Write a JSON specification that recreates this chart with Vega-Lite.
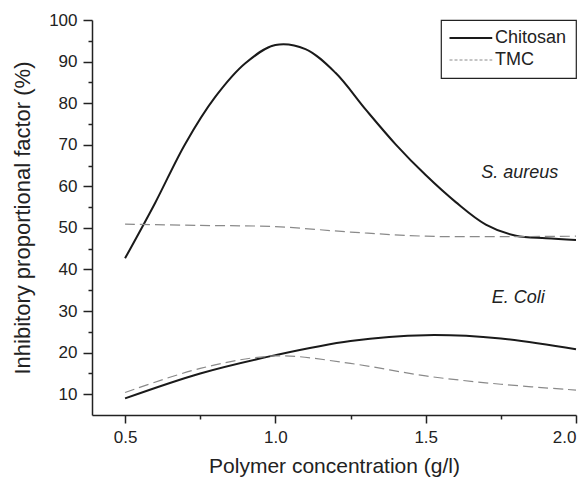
{
  "$schema": "https://vega.github.io/schema/vega-lite/v6.json",
  "width": 484,
  "height": 395,
  "autosize": {"type": "none"},
  "padding": {"left": 92, "top": 20, "right": 12, "bottom": 70},
  "background": "white",
  "config": {
    "view": {"stroke": null},
    "font": "Liberation Sans",
    "axis": {"domainColor": "#222", "domainWidth": 1.5, "tickColor": "#222", "tickWidth": 1.5, "labelColor": "#222", "titleColor": "#222", "grid": false, "labelFont": "Liberation Sans", "titleFont": "Liberation Sans", "titleFontWeight": "normal"}
  },
  "datasets": {
    "curves": [
      {"x": 0.50, "y": 42.7, "polymer": "Chitosan", "organism": "S. aureus"},
      {"x": 0.60, "y": 56.0, "polymer": "Chitosan", "organism": "S. aureus"},
      {"x": 0.70, "y": 70.2, "polymer": "Chitosan", "organism": "S. aureus"},
      {"x": 0.80, "y": 81.5, "polymer": "Chitosan", "organism": "S. aureus"},
      {"x": 0.90, "y": 89.6, "polymer": "Chitosan", "organism": "S. aureus"},
      {"x": 1.00, "y": 94.0, "polymer": "Chitosan", "organism": "S. aureus"},
      {"x": 1.10, "y": 93.0, "polymer": "Chitosan", "organism": "S. aureus"},
      {"x": 1.20, "y": 87.3, "polymer": "Chitosan", "organism": "S. aureus"},
      {"x": 1.30, "y": 78.5, "polymer": "Chitosan", "organism": "S. aureus"},
      {"x": 1.40, "y": 70.1, "polymer": "Chitosan", "organism": "S. aureus"},
      {"x": 1.50, "y": 62.7, "polymer": "Chitosan", "organism": "S. aureus"},
      {"x": 1.60, "y": 56.2, "polymer": "Chitosan", "organism": "S. aureus"},
      {"x": 1.70, "y": 50.8, "polymer": "Chitosan", "organism": "S. aureus"},
      {"x": 1.80, "y": 48.1, "polymer": "Chitosan", "organism": "S. aureus"},
      {"x": 1.90, "y": 47.5, "polymer": "Chitosan", "organism": "S. aureus"},
      {"x": 2.00, "y": 47.1, "polymer": "Chitosan", "organism": "S. aureus"},
      {"x": 0.50, "y": 50.9, "polymer": "TMC", "organism": "S. aureus"},
      {"x": 0.75, "y": 50.6, "polymer": "TMC", "organism": "S. aureus"},
      {"x": 1.00, "y": 50.3, "polymer": "TMC", "organism": "S. aureus"},
      {"x": 1.25, "y": 49.0, "polymer": "TMC", "organism": "S. aureus"},
      {"x": 1.50, "y": 48.0, "polymer": "TMC", "organism": "S. aureus"},
      {"x": 1.75, "y": 47.9, "polymer": "TMC", "organism": "S. aureus"},
      {"x": 2.00, "y": 48.0, "polymer": "TMC", "organism": "S. aureus"},
      {"x": 0.50, "y": 9.0, "polymer": "Chitosan", "organism": "E. Coli"},
      {"x": 0.75, "y": 15.0, "polymer": "Chitosan", "organism": "E. Coli"},
      {"x": 1.00, "y": 19.4, "polymer": "Chitosan", "organism": "E. Coli"},
      {"x": 1.25, "y": 22.8, "polymer": "Chitosan", "organism": "E. Coli"},
      {"x": 1.50, "y": 24.2, "polymer": "Chitosan", "organism": "E. Coli"},
      {"x": 1.75, "y": 23.4, "polymer": "Chitosan", "organism": "E. Coli"},
      {"x": 2.00, "y": 20.8, "polymer": "Chitosan", "organism": "E. Coli"},
      {"x": 0.50, "y": 10.4, "polymer": "TMC", "organism": "E. Coli"},
      {"x": 0.75, "y": 16.2, "polymer": "TMC", "organism": "E. Coli"},
      {"x": 1.00, "y": 19.2, "polymer": "TMC", "organism": "E. Coli"},
      {"x": 1.25, "y": 17.4, "polymer": "TMC", "organism": "E. Coli"},
      {"x": 1.50, "y": 14.4, "polymer": "TMC", "organism": "E. Coli"},
      {"x": 1.75, "y": 12.4, "polymer": "TMC", "organism": "E. Coli"},
      {"x": 2.00, "y": 11.0, "polymer": "TMC", "organism": "E. Coli"}
    ],
    "labels": [
      {"x": 1.813, "y": 63.2, "text": "S. aureus"},
      {"x": 1.808, "y": 33.1, "text": "E. Coli"}
    ]
  },
  "encoding": {
    "x": {
      "field": "x", "type": "quantitative",
      "scale": {"domain": [0.39, 2.0], "nice": false, "zero": false},
      "axis": {
        "title": "Polymer concentration (g/l)",
        "values": [0.5, 0.75, 1.0, 1.25, 1.5, 1.75, 2.0],
        "labelExpr": "(datum.value * 2) % 1 === 0 ? format(datum.value, '.1f') : ''",
        "tickSize": {"condition": {"test": "(datum.value * 2) % 1 === 0", "value": 8}, "value": 4},
        "labelFontSize": 17,
        "labelPadding": 6,
        "titleFontSize": 21,
        "titlePadding": 10
      }
    },
    "y": {
      "field": "y", "type": "quantitative",
      "scale": {"domain": [5, 100], "nice": false, "zero": false},
      "axis": {
        "title": "Inhibitory proportional factor (%)",
        "values": [10, 15, 20, 25, 30, 35, 40, 45, 50, 55, 60, 65, 70, 75, 80, 85, 90, 95, 100],
        "labelExpr": "datum.value % 10 === 0 ? datum.label : ''",
        "tickSize": {"condition": {"test": "datum.value % 10 === 0", "value": 9}, "value": 4},
        "labelFontSize": 17,
        "labelPadding": 6,
        "titleFontSize": 22,
        "titlePadding": 14
      }
    }
  },
  "layer": [
    {
      "data": {"name": "curves"},
      "transform": [{"filter": "datum.polymer === 'Chitosan'"}],
      "mark": {"type": "line", "interpolate": "catmull-rom", "strokeWidth": 2},
      "encoding": {
        "detail": {"field": "organism"},
        "color": {
          "field": "polymer", "type": "nominal",
          "scale": {"domain": ["Chitosan", "TMC"], "range": ["#1a1a1a", "#8a8a8a"]},
          "legend": {
            "title": null,
            "orient": "top-right",
            "offset": 0,
            "strokeColor": "#222",
            "padding": 9,
            "symbolType": "M-1,0H3.5",
            "symbolSize": 361,
            "labelFontSize": 18,
            "labelColor": "#222",
            "labelOffset": 27,
            "rowPadding": 4,
            "fillColor": "white",
            "encode": {
              "legend": {"update": {"strokeWidth": {"value": 1.2}}},
              "symbols": {"update": {
                "strokeDash": {"signal": "datum.value === 'TMC' ? [3, 2] : [1, 0]"},
                "strokeWidth": {"signal": "datum.value === 'TMC' ? 1 : 2"},
                "fill": {"value": "transparent"}
              }}
            }
          }
        }
      }
    },
    {
      "data": {"name": "curves"},
      "transform": [{"filter": "datum.polymer === 'TMC'"}],
      "mark": {"type": "line", "interpolate": "catmull-rom", "strokeWidth": 1.2, "strokeDash": [10, 5]},
      "encoding": {
        "detail": {"field": "organism"},
        "color": {"field": "polymer", "type": "nominal"}
      }
    },
    {
      "data": {"name": "labels"},
      "mark": {"type": "text", "fontStyle": "italic", "fontSize": 18, "color": "#222", "align": "center", "baseline": "middle"},
      "encoding": {
        "text": {"field": "text"}
      }
    }
  ]
}
